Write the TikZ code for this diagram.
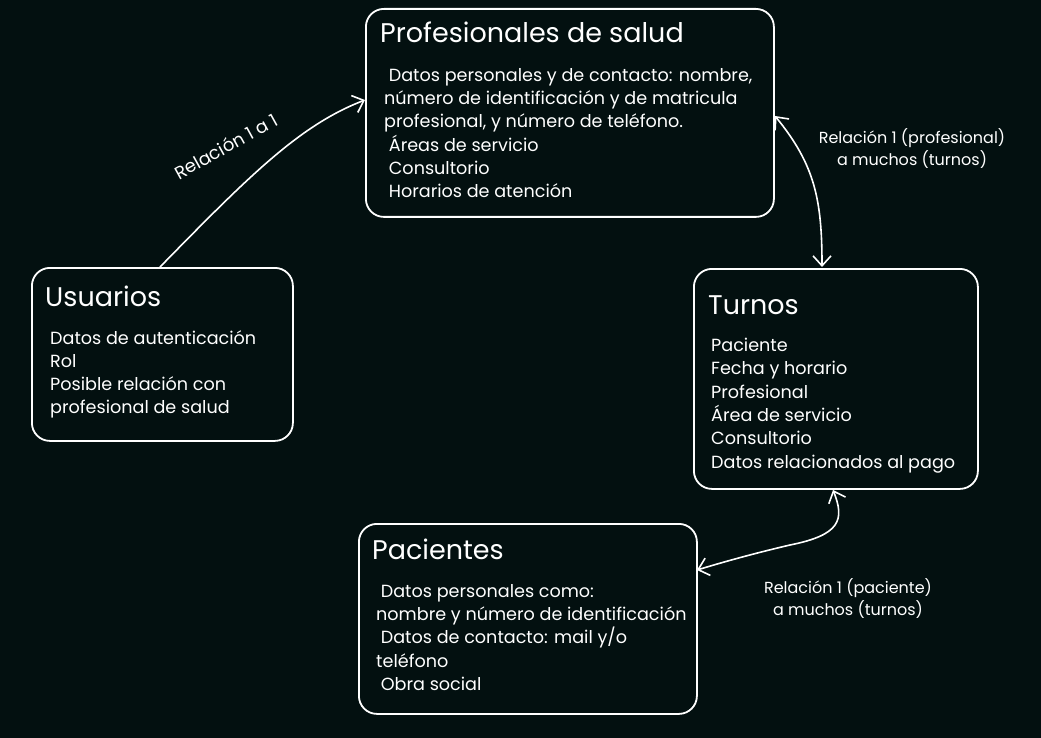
\documentclass[tikz,border=0pt]{standalone}
\usepackage{fontspec}
\setmainfont{Poppins}
\usetikzlibrary{arrows.meta}
\definecolor{bg}{RGB}{3,16,16}
\tikzset{
  box/.style={draw=white, line width=1.8pt, rounded corners=18pt},
  ttl/.style={anchor=base west, text=white, inner sep=0pt, font=\fontsize{27}{30}\selectfont},
  body/.style={anchor=base west, text=white, inner sep=0pt, align=left, font=\fontsize{17.6}{23.3}\selectfont},
  lbl/.style={text=white, inner sep=0pt, align=center, font=\fontsize{16}{22}\selectfont},
  conn/.style={draw=white, line width=1.6pt, -{Straight Barb[length=10pt,width=18pt,line width=1.6pt]}},
  conn2/.style={draw=white, line width=1.6pt, {Straight Barb[length=10pt,width=18pt,line width=1.6pt]}-{Straight Barb[length=10pt,width=18pt,line width=1.6pt]}}
}
\begin{document}
\begin{tikzpicture}[x=1pt,y=-1pt]
\fill[bg] (0,0) rectangle (1041,738);
\useasboundingbox (0,0) rectangle (1041,738);
% boxes
\node[box, minimum width=408pt, minimum height=208pt, anchor=north west] (prof) at (365,8) {};
\node[box, minimum width=261pt, minimum height=173pt, anchor=north west] (usr) at (31,267) {};
\node[box, minimum width=284pt, minimum height=220pt, anchor=north west] (tur) at (693,268) {};
\node[box, minimum width=338pt, minimum height=190pt, anchor=north west] (pac) at (358,523) {};
% titles
\node[ttl] (profT) at (380,43) {Profesionales de salud};
\node[ttl] (usrT) at (45,306) {Usuarios};
\node[ttl] (turT) at (708,314) {Turnos};
\node[ttl] (pacT) at (372,559) {Pacientes};
% bodies
\node[body, anchor=north west] (profB) at (384,68) {\ Datos personales y de contacto: nombre,\\número de identificación y de matricula\\profesional, y número de teléfono.\\\ Áreas de servicio\\\ Consultorio\\\ Horarios de atención};
\node[body, anchor=north west] (usrB) at (50,330) {Datos de autenticación\\Rol\\Posible relación con\\profesional de salud};
\node[body, anchor=north west] (turB) at (711,338) {Paciente\\Fecha y horario\\Profesional\\Área de servicio\\Consultorio\\Datos relacionados al pago};
\node[body, anchor=north west] (pacB) at (376,584) {\ Datos personales como:\\nombre y número de identificación\\\ Datos de contacto: mail y/o\\teléfono\\\ Obra social};
% connectors
\coordinate (a1) at (160,267);
\coordinate (a2) at (365,100);
\draw[conn] (a1) .. controls (250,175) and (300,125) .. (a2);
\coordinate (b1) at (775,116);
\coordinate (b2) at (822,267);
\draw[conn2] (b1) .. controls (815,165) and (822,200) .. (b2);
\coordinate (c1) at (833,490);
\coordinate (c2) at (697,570);
\draw[conn2] (c1) .. controls (845,520) and (840,535) .. (790,545) .. controls (760,552) and (730,560) .. (c2);
% labels
\node[lbl, rotate=29, font=\fontsize{18}{22}\selectfont] (l1) at (226,146) {Relación 1 a 1};
\node[lbl] (l2) at (912,149) {Relación 1 (profesional)\\a muchos (turnos)};
\node[lbl] (l3) at (848,599) {Relación 1 (paciente)\\a muchos (turnos)};
\end{tikzpicture}
\end{document}
